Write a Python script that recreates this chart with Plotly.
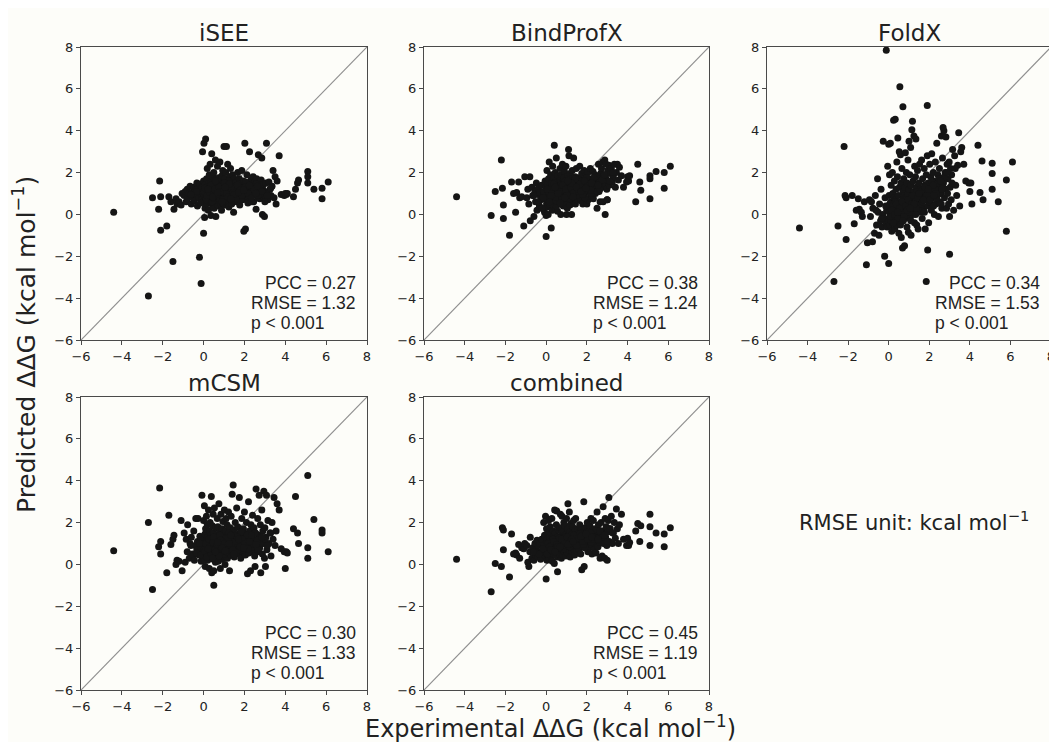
import plotly.graph_objects as go

# ---------------- data ----------------
axis_range = [-6, 8]
tick_vals = [-6, -4, -2, 0, 2, 4, 6, 8]
panel_titles = ["iSEE", "BindProfX", "FoldX", "mCSM", "combined"]
pcc_values = ["0.27", "0.38", "0.34", "0.30", "0.45"]
rmse_values = ["1.32", "1.24", "1.53", "1.33", "1.19"]
p_label = "p < 0.001"

# experimental ddG (shared by all panels)
exp_ddg = [
    -4.4, -2.7, -2.5, -2.2, -2.15, -2.1, -2.1, -1.8, -1.7, -1.6, -1.5, -1.45, -1.35, -1.3, -1.2, -1.1, -1.05,
    -0.95, -0.9, -0.85, -0.8, -0.78, -0.7, -0.66, -0.6, -0.55, -0.52,
    -0.48, -0.45, -0.4, -0.38, -0.33, -0.3, -0.27, -0.22, -0.18, -0.12,
    -0.1, -0.08, -0.05, -0.03, 0.0, 0.0, 0.02, 0.04, 0.05, 0.07,
    0.08, 0.1, 0.1, 0.12, 0.14, 0.15, 0.17, 0.18, 0.2, 0.2,
    0.22, 0.24, 0.25, 0.27, 0.28, 0.3, 0.3, 0.32, 0.33, 0.35,
    0.36, 0.38, 0.4, 0.4, 0.42, 0.43, 0.45, 0.45, 0.47, 0.48,
    0.5, 0.5, 0.52, 0.53, 0.55, 0.56, 0.58, 0.6, 0.6, 0.62,
    0.64, 0.65, 0.67, 0.68, 0.7, 0.7, 0.72, 0.74, 0.75, 0.77,
    0.78, 0.8, 0.8, 0.82, 0.84, 0.85, 0.87, 0.88, 0.9, 0.9,
    0.92, 0.94, 0.95, 0.97, 0.98, 1.0, 1.0, 1.02, 1.04, 1.05,
    1.07, 1.08, 1.1, 1.1, 1.12, 1.14, 1.15, 1.17, 1.18, 1.2,
    1.22, 1.24, 1.25, 1.27, 1.28, 1.3, 1.32, 1.34, 1.35, 1.37,
    1.38, 1.4, 1.42, 1.44, 1.45, 1.47, 1.48, 1.5, 1.52, 1.55,
    1.57, 1.6, 1.62, 1.65, 1.67, 1.7, 1.72, 1.75, 1.77, 1.8,
    1.82, 1.85, 1.87, 1.9, 1.92, 1.95, 1.97, 2.0, 2.02, 2.05,
    2.07, 2.1, 2.12, 2.15, 2.17, 2.2, 2.22, 2.25, 2.27, 2.3,
    2.32, 2.35, 2.37, 2.4, 2.42, 2.45, 2.47, 2.5, 2.52, 2.55,
    2.57, 2.6, 2.62, 2.65, 2.68,
    2.7, 2.72, 2.75, 2.78, 2.8, 2.82, 2.85, 2.88, 2.9, 2.92,
    2.95, 2.98, 3.0, 3.03, 3.05, 3.08, 3.1, 3.15, 3.2, 3.25,
    3.3, 3.35, 3.4, 3.45, 3.5, 3.55, 3.6, 3.7, 3.8, 3.95,
    -0.2, -0.12, 0.0, 0.05,
    0.5, 0.55, 0.7, 1.85, 1.9, 1.92, 3.0,
    4.0, 4.05, 4.1,
    4.4, 4.5, 4.6, 4.65, 5.1, 5.1, 5.1, 5.4, 5.8, 5.8, 6.1,
    0.03, 0.11, 0.19, 0.26, 0.34, 0.41, 0.49, 0.57, 0.63, 0.71,
    0.79, 0.86, 0.93, 1.01, 1.09, 1.16, 1.23, 1.31, 1.39, 1.46,
    1.53, 1.61, 1.69, 1.76, 1.83, 1.91, 1.99, 2.06, 2.13, 2.21,
    2.29, 2.36, 2.43, 2.51, 2.59, 2.66, 2.74, -0.35, -0.62, -0.15,
    0.06, 0.16, 0.29, 0.37, 0.46, 0.54, 0.66, 0.76, 0.83, 0.96,
    1.03, 1.13, 1.21, 1.36, 1.43, 1.58, 1.66, 1.79, 1.88, 2.04,
    2.19, 2.34, 2.48, 2.63, 2.86, 3.12, 3.28, 0.58, 0.91, 1.26,
    1.49, 1.71, 0.23, 0.44, 0.69, 1.06, 1.33, 1.96, 2.24, 2.56,
]

pred_isee = [
    0.1, -3.9, 0.8, 0.25, 1.6, 0.85, -0.75, -0.55, 0.85, 0.6, -2.25, 0.25, 0.75, 0.5, 0.6, 0.45, 1.0,
    0.9, 1.1, 0.6, 1.2, 0.75, 1.0, 1.35, 0.5, 1.05, 0.85,
    1.3, 0.65, 1.15, 0.95, 1.5, 0.4, 1.25, 0.8, 1.45, 1.0,
    0.7, 1.3, 3.0, 1.0, 0.6, 1.6, 3.4, 0.9, 1.2, 0.3,
    1.45, 0.8, 3.6, 1.1, 0.5, 1.7, 0.95, 2.2, 1.3, 0.7,
    1.05, 0.2, 1.5, 0.85, 1.9, 1.2, 0.6, 2.4, 1.0, 1.35,
    -0.05, 0.75, 1.6, 2.9, 1.15, 0.45, 1.8, 0.9, 1.25, 0.55,
    2.0, 1.4, 0.3, 1.1, 1.65, 0.8, 2.6, 1.0, -0.1, 1.3,
    0.6, 1.5, 1.0, 2.3, 0.85, 1.2, 0.4, 1.75, 1.05, 0.7,
    1.4, 2.5, 0.95, 1.25, 0.5, 1.6, 1.1, 0.2, 1.85, 0.8,
    1.35, 2.1, 1.0, 0.65, 1.5, 3.25, 1.15, 0.9, 1.7, 0.45,
    1.3, 2.0, 0.75, 1.05, 3.25, 1.45, 0.6, 1.2, 2.4, 0.95,
    1.55, 0.35, 1.1, 1.8, 0.85, 1.3, 2.2, 0.7, 1.0, 1.6,
    0.5, 1.25, 1.9, 0.9, 1.4, 0.1, 1.15, 1.7, 0.8, 1.35,
    1.0, 1.55, 0.6, 1.3, 2.0, 0.85, 1.2, 1.7, 0.45, 1.1,
    1.45, 0.9, 2.1, 1.25, 0.7, 1.6, -0.8, 1.05, 3.4, -0.7,
    1.35, 0.8, 1.9, 1.15, 0.55, 1.5, 1.0, 3.0, 1.3, 0.75,
    1.65, 1.1, 0.9, 1.4, 1.8, 0.6, 1.2, 1.55, 0.95, 1.35,
    0.25, 1.7, 1.05, 0.8, 2.85,
    1.5, 1.0, 0.75, 1.3, 0.9, 1.65, 2.7, 0.0, 1.2, 0.85,
    1.45, -0.1, 1.1, 0.8, 1.5, 3.4, 1.0, 0.7, 1.55, 1.2,
    0.9, 1.35, 2.1, 0.8, 1.8, 0.5, 1.6, 2.8, 0.95, 0.9,
    -2.05, -3.3, -0.9, -0.15,
    1.2, 0.9, 1.4, 0.8, 1.1, 1.0, 0.6,
    1.0, 0.95, 1.0,
    0.85, 1.2, 1.5, 1.65, 2.05, 1.8, 1.5, 1.2, 1.25, 0.75, 1.55,
    1.1, 0.7, 1.3, 0.95, 1.5, 0.6, 1.15, 0.85, 1.4, 1.0,
    0.75, 1.25, 0.55, 1.05, 1.35, 0.9, 1.6, 1.2, 0.65, 1.0,
    1.3, 0.8, 1.45, 1.1, 0.7, 1.25, 0.95, 1.55, 1.05, 0.85,
    1.35, 0.6, 1.2, 1.0, 1.45, 0.9, 1.15, 1.1, 0.95, 0.55,
    1.25, 0.9, 1.05, 1.4, 0.8, 1.2, 0.95, 1.3, 1.1, 0.7,
    1.5, 1.0, 0.85, 1.25, 1.05, 0.75, 1.4, 1.15, 0.9, 1.3,
    1.0, 0.8, 1.2, 1.35, 1.1, 0.9, 1.25, 1.6, 0.6, 1.45,
    0.95, 1.05, 1.2, 0.85, 1.05, 1.3, 0.75, 1.15, 1.4, 1.0,
]

pred_bindprofx = [
    0.85, -0.05, 1.1, 2.6, 1.25, 0.45, -0.2, -1.0, 1.55, 1.0, 0.1, 1.05, 1.55, 0.8, 0.85, -0.55, 1.8,
    0.8, 1.2, 0.5, 1.8, -0.3, 1.3, 0.9, -0.1, 1.1, 0.6,
    1.5, 0.2, 0.95, 1.25, 0.4, 1.05, 0.7, 1.4, 0.3, 0.85,
    1.0, 0.1, 1.6, 0.75, -0.05, 1.3, 0.5, 2.1, 0.9, 1.45,
    0.35, 1.15, 0.0, 1.7, 0.8, 2.5, 1.0, 0.45, 1.35, 0.65,
    1.9, 1.05, -0.65, 1.5, 0.85, 0.2, 1.25, 2.3, 0.6, 1.1,
    1.75, 0.4, 3.3, 0.95, 1.4, 0.7, 2.0, 1.2, 0.3, 1.6,
    0.9, 2.7, 0.55, 1.3, 1.05, 0.15, 1.85, 0.75, 1.45, 1.0,
    0.5, 1.6, 1.15, 2.2, 0.8, 1.35, 0.0, 1.0, 1.9, 0.65,
    1.25, 2.4, 0.9, 1.5, 0.4, 1.1, 1.75, 0.7, 2.05, 1.3,
    0.55, 1.45, 1.0, 2.3, 0.85, 0.0, 1.6, 1.2, 0.3, 1.85,
    1.05, 1.4, 3.1, 0.75, 2.8, 1.55, 1.15, 0.45, 1.95, 1.3,
    0.9, 1.7, 0.0, 1.25, 2.1, 1.0, 1.5, 0.6, 2.7, 1.35,
    0.8, 1.15, 1.8, 0.5, 1.45, 1.05, 2.2, 0.95, 1.6, 0.7,
    1.3, 1.75, 0.9, 2.3, 1.1, 1.5, 0.65, 1.95, 1.25, 0.5,
    1.6, 1.0, 2.1, 1.4, 0.8, 1.85, 1.15, 0.5, 1.55, 2.0,
    0.7, 1.3, 1.7, 1.05, 2.2, 1.45, 0.9, 1.6, 1.2, 2.05,
    0.75, 1.5, 1.35, 1.9, 1.0, 1.65, 1.25, 0.3, 1.8, 1.45,
    2.4, 1.1, 1.55, 0.6, 1.95,
    1.7, 2.2, 1.3, 2.5, 0.6, 1.9, 1.5, 2.6, 0.0, 1.75,
    2.4, 1.2, 0.7, 2.1, 1.6, 2.35, 1.4, 1.95, 2.2, 1.55,
    1.8, 2.4, 1.3, 2.0, 2.4, 1.65, 2.25, 1.85, 1.3, 1.55,
    0.3, 1.1, -1.05, 0.6,
    0.4, 1.5, 0.9, 1.2, 0.8, 1.7, 0.7,
    1.8, 1.6, 1.85,
    0.6, 2.4, 1.55, 1.15, 1.85, 1.7, 0.75, 2.05, 2.0, 1.25, 2.3,
    0.7, 1.1, 0.5, 1.3, 0.9, 1.5, 0.65, 1.2, 1.0, 1.4,
    0.8, 1.15, 1.6, 0.95, 1.35, 0.75, 1.25, 1.5, 1.05, 1.7,
    0.9, 1.4, 1.2, 1.6, 1.0, 1.3, 1.75, 1.15, 1.45, 1.0,
    1.55, 1.3, 1.8, 1.1, 1.5, 1.25, 1.65, 0.6, 0.9, 0.8,
    1.2, 0.6, 1.0, 1.45, 0.85, 1.25, 1.1, 0.7, 1.4, 1.2,
    0.9, 1.55, 1.3, 1.05, 1.7, 1.2, 1.45, 0.95, 1.6, 1.35,
    1.15, 1.75, 1.4, 1.2, 1.9, 1.6, 2.0, 1.0, 0.8, 1.5,
    1.3, 1.1, 0.9, 1.3, 0.55, 1.6, 0.85, 1.25, 1.5, 1.4,
]

pred_foldx = [
    -0.65, -3.2, -0.55, 3.25, 0.9, 0.8, -1.2, 0.9, -0.45, 0.2, 0.75, 0.25, 0.1, -0.1, 0.6, -2.4, -1.35,
    0.7, -0.1, 0.6, -1.3, 0.3, -0.9, 0.9, -0.5, 1.7, 0.1,
    -1.0, 0.5, -0.3, 1.2, -0.6, 0.0, 3.5, -0.2, 0.8, -0.4,
    0.2, -0.6, 2.3, 0.4, 3.35, -0.3, 0.9, 1.9, -0.5, 0.1,
    3.4, 0.6, -0.2, 1.4, 0.0, -0.8, 0.5, 2.0, -0.4, 1.0,
    0.3, 4.5, -0.1, 0.8, 1.6, -0.7, 0.2, 4.55, 0.7, -0.3,
    1.2, 0.0, 2.5, -0.5, 0.4, 1.8, 0.1, 3.65, -0.2, 0.9,
    0.5, -0.9, 3.0, 1.3, 0.2, -0.4, 2.85, 0.6, 1.5, -1.1,
    0.0, 2.2, 0.4, -1.6, 1.1, 0.7, -0.3, 1.7, 0.2, 0.9,
    -1.5, 0.5, 1.3, 2.95, -0.1, 0.8, 2.0, 0.3, 1.5, -0.6,
    0.6, 1.0, 2.6, -0.85, 0.4, 3.5, 1.2, 0.1, 1.9, -0.2,
    0.7, 3.2, 1.4, -1.0, 0.5, 4.05, 0.9, 4.45, 0.0, 1.6,
    0.3, 3.75, 1.1, -0.4, 2.3, 0.6, 1.8, 3.6, 0.2, 1.3,
    -0.5, 0.8, 2.1, 1.0, -0.7, 0.4, 1.5, 0.7, 2.4, 0.1,
    1.2, 0.5, 2.6, -0.2, 1.7, 0.9, 0.3, 2.2, 1.4, -0.7,
    0.7, 1.9, 1.0, 2.8, 0.4, 1.5, -0.4, 1.1, 2.4, 0.6,
    1.8, 0.2, 2.9, 1.3, 0.8, 2.0, 1.6, 0.0, 1.1, 2.5,
    0.5, 1.4, 3.4, 0.9, 1.9, -0.1, 1.2, 2.2, 0.6, 1.7,
    1.0, 3.75, 0.3, 2.7, 4.15,
    1.5, 4.0, 0.8, 2.0, 1.2, 3.7, 0.3, 2.4, 1.0, 1.7,
    0.5, 2.5, -0.1, 1.3, 2.2, 0.7, 1.9, 3.1, 0.2, 2.8,
    1.4, 0.9, 2.35, 3.9, 0.4, 3.0, 3.2, 2.4, 1.6, 1.5,
    -2.0, 7.85, -2.35, 0.5,
    -0.3, 6.1, 5.15, -3.2, 5.2, -1.7, -1.9,
    1.1, 1.5, 0.5,
    3.3, 1.05, 2.55, 0.7, 2.45, 1.95, 1.2, 0.6, 1.65, -0.8, 2.5,
    0.1, -0.3, 0.4, -0.1, 0.6, 0.0, 0.3, -0.4, 0.5, 0.2,
    -0.2, 0.7, 0.1, 0.4, -0.3, 0.9, 0.3, 0.6, 1.1, 0.2,
    0.8, 0.5, 1.2, 0.1, 0.9, 1.4, 0.6, 1.0, 1.6, 0.4,
    1.2, 0.8, 1.5, 1.0, 0.5, 1.3, 1.8, -0.2, 0.2, 0.4,
    -0.1, 0.2, 0.0, 0.5, -0.2, 0.3, 0.6, -0.1, 0.4, 0.7,
    0.1, 0.5, 0.9, 0.3, 0.8, 1.1, 0.6, 1.3, 0.9, 0.7,
    1.4, 1.0, 1.7, 1.2, 2.0, 1.5, 2.2, -0.5, 0.2, 0.5,
    1.0, 0.7, -0.4, 0.1, -0.3, 0.3, 0.0, 1.2, 0.9, 1.6,
]

pred_mcsm = [
    0.65, 2.0, -1.2, 0.85, 3.65, 1.1, 0.5, -0.4, 2.35, 0.95, 1.2, 1.4, 0.0, 0.2, 0.15, 2.1, -0.3,
    1.5, 0.1, 1.2, 0.6, 1.9, 0.3, 1.0, 1.3, 0.5, 0.4,
    1.6, 0.2, 0.9, 2.2, 0.7, 1.1, 2.2, 0.45, 1.35, 0.15,
    0.8, 3.3, 0.3, 1.25, 0.6, 2.1, 1.0, 2.8, 0.5, 1.45,
    -0.1, 0.95, 1.7, 0.4, 2.3, 1.15, 0.7, 1.9, 0.2, 1.3,
    0.85, 2.6, 0.55, 1.05, -0.2, 1.6, 0.35, 2.0, 0.9, 1.4,
    0.65, 3.25, -0.4, 1.2, 0.75, 1.85, 0.45, 1.1, 2.4, 0.25,
    -0.3, 1.5, 0.8, 2.7, 0.6, 1.0, 0.1, 1.75, 0.95, 0.4,
    1.3, 0.7, 2.2, 0.5, 1.05, 1.8, 0.15, 0.9, 2.9, 1.2,
    0.6, 1.55, 0.35, -0.2, 1.0, 2.4, 0.8, 1.35, 0.25, 1.7,
    0.55, 1.1, 2.05, 0.9, 0.4, 1.5, 0.75, 2.6, 1.25, 0.0,
    0.95, 1.6, 0.5, 2.2, 1.15, 0.7, 1.9, 0.3, 1.4, 0.85,
    2.5, 1.0, 0.6, -0.3, 1.3, 1.75, 0.45, 1.05, 2.3, 0.8,
    1.5, 3.35, 0.65, 1.2, 3.8, 0.9, 1.65, 0.35, 1.1, 2.0,
    0.7, 1.4, 2.7, 0.95, 1.8, 0.5, 1.2, 3.2, 0.85, 1.55,
    0.3, 1.0, 2.2, 1.35, 0.6, 1.7, 0.9, 2.5, 1.15, 0.45,
    1.45, 2.0, 0.75, -0.45, 1.25, 3.0, 0.55, 1.6, 1.0, -0.3,
    1.9, 0.8, 1.3, 2.35, 0.65, 1.1, 1.75, 0.4, -0.1, 1.5,
    3.6, 0.9, 1.2, 2.2, 0.6,
    1.4, 3.3, 0.8, 1.9, -0.4, 1.2, 2.6, 0.5, 1.6, 1.0,
    3.5, 0.3, 1.75, -0.1, 1.3, 3.3, 0.7, 2.1, 1.0, 1.5,
    0.4, 2.0, 1.2, 3.2, 0.9, 1.6, 2.9, 2.6, 0.75, 0.6,
    1.0, 0.7, 0.3, 0.2,
    -1.0, 1.3, 0.9, 1.1, 0.7, 1.5, 1.2,
    -0.2, 0.6, 0.55,
    1.7, 3.25, 1.5, 1.0, 4.25, 0.8, 0.3, 2.15, 1.65, 1.5, 0.6,
    0.7, 1.0, 0.4, 1.2, 0.8, 0.55, 1.3, 0.9, 0.6, 1.1,
    1.4, 0.75, 1.0, 0.5, 1.25, 0.85, 1.5, 1.05, 0.65, 1.2,
    0.9, 1.35, 0.7, 1.1, 1.55, 0.8, 1.2, 0.95, 1.4, 0.6,
    1.1, 1.3, 0.85, 1.5, 1.0, 0.7, 1.25, 0.55, 0.9, 0.45,
    0.6, 0.35, 0.85, 0.5, 1.05, 0.7, 0.95, 0.4, 1.15, 0.8,
    1.0, 0.6, 1.25, 0.9, 0.7, 1.1, 1.3, 0.85, 1.2, 1.0,
    0.75, 1.4, 0.95, 1.15, 1.3, 0.9, 1.5, 0.6, 0.8, 1.0,
    0.5, 1.2, 0.75, 0.3, 1.05, 0.65, 1.4, 0.8, 1.1, 0.95,
]

pred_combined = [
    0.25, -1.3, 0.05, -0.1, 1.75, 1.65, 0.7, -0.6, 1.45, 0.5, 0.55, 0.45, 0.95, 0.3, 0.8, 0.75, 1.0,
    0.9, 0.1, -0.1, 0.6, 1.3, 0.3, 0.8, 0.2, 1.0, 0.45,
    0.7, 1.15, 0.35, 0.9, 0.55, 1.0, 0.25, 1.2, 0.65, 2.0,
    0.8, 1.4, 0.4, 2.3, 1.0, 0.6, 1.7, 0.2, 1.2, 0.9,
    0.5, 1.55, 0.75, 2.1, 1.05, 0.3, 1.3, 0.85, 0.55, 1.8,
    1.1, 0.4, 1.45, 0.7, 2.2, 0.95, 0.15, 1.25, 0.6, 1.6,
    0.85, 1.35, 0.05, 1.0, 2.6, 0.7, 1.5, 0.45, 1.15, 0.9,
    1.9, 0.6, 2.55, 1.2, 0.35, -0.35, 1.05, 1.65, 0.8, 1.3,
    0.5, 1.1, 1.75, 0.85, 2.4, 0.65, 1.35, 1.0, 0.3, 1.5,
    2.3, 0.8, 1.2, 0.45, 1.6, 0.95, 2.0, 0.6, 1.3, 1.05,
    0.75, 1.85, 1.15, 0.4, 1.45, 2.2, 0.9, 1.25, 0.55, 1.7,
    2.9, 1.0, 0.7, 1.4, 1.1, 2.5, 0.85, 1.55, 0.35, 1.2,
    1.95, 0.95, 1.35, 0.6, 1.05, 1.8, 0.8, 1.5, 2.1, 0.7,
    1.25, 0.45, 1.65, 1.0, 2.2, 0.9, 1.4, 0.65, 1.15, 1.7,
    1.0, 1.5, 0.7, 1.9, 1.25, 0.5, 1.65, -0.25, 1.1, 1.4,
    0.85, 3.0, -0.1, 1.3, 1.75, 0.9, 1.55, 1.05, 2.0, 0.6,
    1.45, 1.2, 0.8, 1.85, 1.35, 2.2, 0.95, 0.5, 1.6, 1.15,
    2.1, 1.3, 0.75, 1.7, 1.0, 0.55, 1.5, 2.5, 1.25, 0.85,
    1.9, 1.4, 1.05, 0.3, 1.6,
    2.0, 1.2, 0.4, 1.6, 2.75, 1.0, 1.45, 0.3, 2.2, 1.3,
    1.8, 0.9, 0.2, 1.55, 2.1, 3.2, 1.1, 1.7, 2.3, 1.0,
    1.5, 2.0, 1.25, 2.65, 1.7, 1.0, 1.9, 2.4, 1.2, 0.9,
    0.6, 0.9, -0.7, 1.0,
    0.9, 1.3, 1.0, 1.25, 0.8, 1.45, 1.1,
    1.25, 0.9, 1.05,
    1.6, 1.95, 1.1, 1.85, 2.4, 1.8, 0.9, 1.5, 1.45, 0.85, 1.75,
    0.7, 1.0, 0.55, 0.9, 1.2, 0.65, 1.05, 0.8, 1.25, 0.95,
    1.1, 0.75, 1.3, 1.0, 1.15, 0.85, 1.4, 1.05, 1.25, 0.95,
    1.35, 1.1, 1.5, 1.2, 0.95, 1.4, 1.15, 1.55, 1.3, 1.05,
    1.45, 1.2, 1.6, 1.35, 1.15, 1.5, 1.3, 0.5, 0.6, 0.75,
    0.5, 0.85, 0.65, 1.1, 0.75, 0.95, 0.8, 1.2, 0.9, 1.05,
    1.3, 0.95, 1.15, 1.4, 1.0, 1.25, 1.45, 1.1, 1.35, 1.2,
    1.5, 1.3, 1.25, 1.6, 1.4, 1.7, 1.5, 0.85, 1.0, 1.2,
    0.9, 1.35, 0.7, 0.6, 0.85, 0.95, 1.1, 1.45, 1.3, 1.2,
]

predictions = [pred_isee, pred_bindprofx, pred_foldx, pred_mcsm, pred_combined]
for arr in predictions:
    assert len(arr) == len(exp_ddg), (len(arr), len(exp_ddg))

# ---------------- layout geometry ----------------
# The page places the figure 8 px in from the top-left corner (default body
# margin), so the figure is sized and laid out in page pixels minus 8.
PAGE_W, PAGE_H = 1057, 742
OFF = 8
W, H = PAGE_W - OFF, PAGE_H - OFF


def px_x(p):
    return (p - OFF) / W


def px_y(p):
    return 1 - (p - OFF) / H


col_px = [(81, 367), (424, 709), (767, 1051)]
row_px = [(47, 340), (397, 690)]

FONT = "DejaVu Sans"
TXT = "#222222"
FRAME = "#4a4a4a"

fig = go.Figure()
annotations = []

for i, (title, yvals) in enumerate(zip(panel_titles, predictions)):
    r, c = divmod(i, 3)
    n = i + 1
    xs = "x" if n == 1 else f"x{n}"
    ys = "y" if n == 1 else f"y{n}"
    x0, x1 = col_px[c]
    t, b = row_px[r]
    dom_x = [px_x(x0), px_x(x1)]
    dom_y = [px_y(b), px_y(t)]

    # identity line
    fig.add_trace(go.Scatter(
        x=axis_range, y=axis_range, mode="lines",
        line=dict(color="#8f8f8f", width=1.2),
        xaxis=xs, yaxis=ys, showlegend=False, hoverinfo="skip"))
    # points
    fig.add_trace(go.Scatter(
        x=exp_ddg, y=yvals, mode="markers",
        marker=dict(color="#151515", size=7, line=dict(width=0)),
        xaxis=xs, yaxis=ys, showlegend=False, name=title))

    common = dict(
        range=axis_range, tickvals=tick_vals, showline=True, mirror=True,
        linecolor=FRAME, linewidth=1.2, ticks="outside", ticklen=4,
        tickcolor=FRAME, tickwidth=1.2, showgrid=False, zeroline=False,
        tickfont=dict(family=FONT, size=13, color=TXT), fixedrange=True,
        automargin=False, ticklabeloverflow="allow",
    )
    fig.layout[f"xaxis{'' if n == 1 else n}"] = dict(common, domain=dom_x, anchor=ys)
    fig.layout[f"yaxis{'' if n == 1 else n}"] = dict(common, domain=dom_y, anchor=xs)

    # panel title
    annotations.append(dict(
        text=title, x=px_x((x0 + x1) / 2), y=px_y(t - 14),
        xref="paper", yref="paper", xanchor="center", yanchor="middle",
        showarrow=False, font=dict(family=FONT, size=23, color=TXT)))

    # statistics text
    lines = [f"PCC = {pcc_values[i]}", f"RMSE = {rmse_values[i]}", p_label]
    line_y = [t + 236, t + 256, t + 276]
    right_px = [x1 - 9, x1 - 9, x1 - 41]
    for txt, yy, rx in zip(lines, line_y, right_px):
        annotations.append(dict(
            text=txt, x=px_x(rx), y=px_y(yy), xref="paper", yref="paper",
            xanchor="right", yanchor="middle", showarrow=False,
            font=dict(family="Liberation Sans", size=17.5, color=TXT)))

# axis titles and unit note
annotations.append(dict(
    text="Predicted ΔΔG (kcal mol<sup>−1</sup>)", x=px_x(25), y=px_y(345),
    xref="paper", yref="paper", xanchor="center", yanchor="middle",
    textangle=-90, showarrow=False, font=dict(family=FONT, size=25, color=TXT)))
annotations.append(dict(
    text="Experimental ΔΔG (kcal mol<sup>−1</sup>)", x=px_x(550), y=px_y(726.5),
    xref="paper", yref="paper", xanchor="center", yanchor="middle",
    showarrow=False, font=dict(family=FONT, size=24, color=TXT)))
annotations.append(dict(
    text="RMSE unit: kcal mol<sup>−1</sup>", x=px_x(914), y=px_y(521),
    xref="paper", yref="paper", xanchor="center", yanchor="middle",
    showarrow=False, font=dict(family=FONT, size=21, color=TXT)))

fig.update_layout(
    width=W, height=H, margin=dict(l=0, r=0, t=0, b=0, autoexpand=False),
    paper_bgcolor="#fdfdf9", plot_bgcolor="#fdfdf9",
    annotations=annotations, showlegend=False,
)

fig.write_html("out.html", config={"displayModeBar": False})
